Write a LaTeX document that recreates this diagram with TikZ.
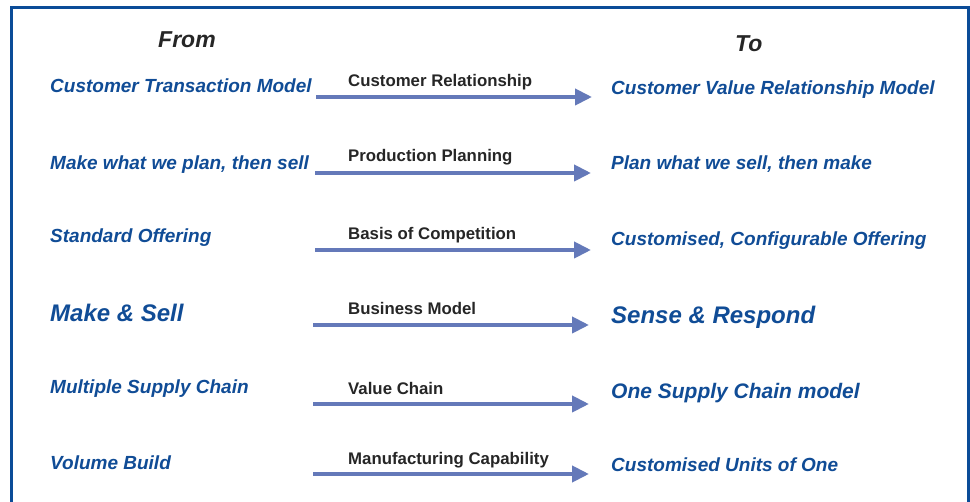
\documentclass[tikz,border=0pt]{standalone}
\usepackage{fontspec}
\setmainfont{Liberation Sans}
\usetikzlibrary{arrows.meta}
\definecolor{txtblue}{RGB}{16,76,150}
\definecolor{frameblue}{RGB}{11,76,152}
\definecolor{arrowblue}{RGB}{100,121,185}
\tikzset{
  frombox/.style={anchor=base west,inner sep=0pt,text=txtblue,font=\fontsize{19}{22}\selectfont\bfseries\itshape},
  bigbox/.style={anchor=base west,inner sep=0pt,text=txtblue,font=\fontsize{24}{28}\selectfont\bfseries\itshape},
  midbox/.style={anchor=base west,inner sep=0pt,text=black!85,font=\fontsize{16.8}{19}\selectfont\bfseries},
  headbox/.style={anchor=base west,inner sep=0pt,text=black!85,font=\fontsize{23}{27}\selectfont\bfseries\itshape},
  flow/.style={draw=arrowblue,line width=4pt,-{Triangle[length=17pt,width=16pt]}}
}
\begin{document}
\begin{tikzpicture}[x=1pt,y=-1pt]
\useasboundingbox (0,0) rectangle (970,502);
\fill[white] (0,0) rectangle (970,502);
\begin{scope}
\clip (0,0) rectangle (970,502);
\draw[frameblue,line width=3pt] (11.5,7.5) rectangle (968,520);
\end{scope}
\node[headbox] (from) at (158,48) {From};
\node[headbox] (to) at (735,52) {To};
% row 1
\node[frombox] (l1) at (50,92.5) {Customer Transaction Model};
\node[midbox] (m1) at (348,87) {Customer Relationship};
\node[frombox] (r1) at (611,94.5) {Customer Value Relationship Model};
\coordinate (a1) at (316,97); \coordinate (b1) at (592,97);
\draw[flow] (a1) -- (b1);
% row 2
\node[frombox] (l2) at (50,170) {Make what we plan, then sell};
\node[midbox] (m2) at (348,162) {Production Planning};
\node[frombox] (r2) at (611,170) {Plan what we sell, then make};
\coordinate (a2) at (315,173); \coordinate (b2) at (591,173);
\draw[flow] (a2) -- (b2);
% row 3
\node[frombox] (l3) at (50,243) {Standard Offering};
\node[midbox] (m3) at (348,240) {Basis of Competition};
\node[frombox] (r3) at (611,246) {Customised, Configurable Offering};
\coordinate (a3) at (315,250); \coordinate (b3) at (591,250);
\draw[flow] (a3) -- (b3);
% row 4
\node[bigbox] (l4) at (50,322) {Make \& Sell};
\node[midbox] (m4) at (348,315) {Business Model};
\node[bigbox] (r4) at (611,324) {Sense \& Respond};
\coordinate (a4) at (313,325); \coordinate (b4) at (589,325);
\draw[flow] (a4) -- (b4);
% row 5
\node[frombox] (l5) at (50,394) {Multiple Supply Chain};
\node[midbox] (m5) at (348,395) {Value Chain};
\node[bigbox,font=\fontsize{21}{25}\selectfont\bfseries\itshape] (r5) at (611,399) {One Supply Chain model};
\coordinate (a5) at (313,404); \coordinate (b5) at (589,404);
\draw[flow] (a5) -- (b5);
% row 6
\node[frombox] (l6) at (50,470) {Volume Build};
\node[midbox] (m6) at (348,465) {Manufacturing Capability};
\node[frombox] (r6) at (611,472) {Customised Units of One};
\coordinate (a6) at (313,474); \coordinate (b6) at (589,474);
\draw[flow] (a6) -- (b6);
\end{tikzpicture}
\end{document}
